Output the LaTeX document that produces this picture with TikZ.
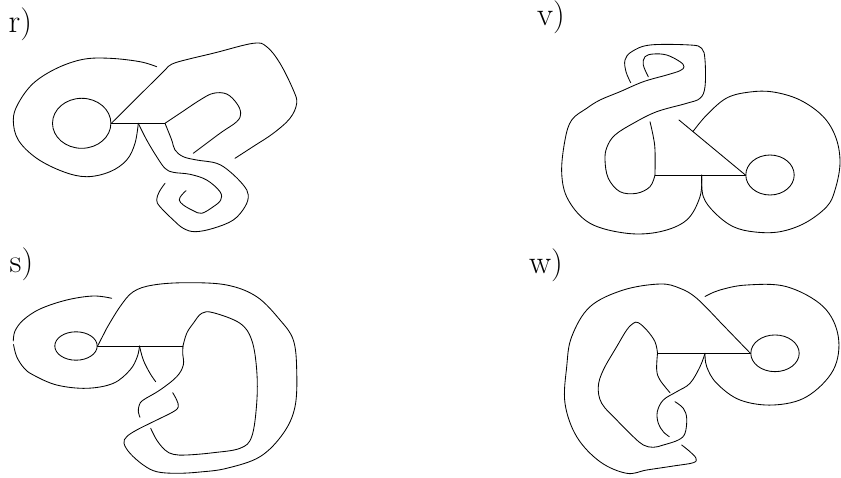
\documentclass[tikz,border=0pt]{standalone}
\usetikzlibrary{shapes.geometric}
\begin{document}
\begin{tikzpicture}[x=1pt,y=-1pt,
  knot/.style={line width=0.85pt,line cap=round,line join=round},
  spot/.style={draw,ellipse,inner sep=0pt,line width=0.85pt},
  lab/.style={font=\fontsize{33}{36}\selectfont,inner sep=0pt,anchor=base west},
  sm/.style={smooth,tension=0.6}]
\useasboundingbox (0,0) rectangle (841,477);

% labels
\node[lab] (lr) at (8.5,32) {r)};
\node[lab] (lv) at (537,25.5) {v)};
\node[lab] (ls) at (9.5,272) {s)};
\node[lab] (lw) at (529,273.5) {w)};

% ---------------- panel r
\node[spot,minimum width=58.4pt,minimum height=50pt] (cr) at (81.7,123.3) {};
\coordinate (r1) at (138.3,123.3);
\coordinate (r2) at (165,123.3);
\draw[knot] (cr.east) -- (r2);
\draw[knot] plot[sm] coordinates {(156.7,66.7) (140,61.7) (110,58.3) (83.3,59.3) (56.7,68.3) (33.3,83.3) (18.3,103.3) (13.3,120) (18.3,140) (36.7,158.3) (63.3,171.7) (86.7,176.7) (110,171.7) (126.7,160) (135,143.3) (r1)};
\draw[knot] (cr.east) -- plot[sm] coordinates {(166.7,68.3) (176,62.5) (215,52.8) (253.3,43.3) (266.7,46.7) (280,63.3) (293.3,90) (296.7,103.3) (290,118.3) (273.3,133.3) (254,146) (235,158.3)};
\draw[knot] plot[sm] coordinates {(r2) (180,113.3) (200,100) (213.3,93.3) (226.7,94) (236.7,103.3) (240.7,113.3) (236.7,121.7) (220,133.3) (193.3,153.3)};
\draw[knot] plot[sm] coordinates {(r2) (171.7,140) (175,150) (183.3,156.7) (196.7,160) (216.7,163.3) (230,171.7) (243.3,185) (248.3,195) (245,206.7) (233.3,220) (213.3,228.3) (195,231.7) (183.3,228.3) (173.3,220) (160,206.7) (156.7,200) (159.3,191.7) (165,183.3)};
\draw[knot] plot[sm] coordinates {(r1) (146.7,140) (156.7,156.7) (165,168.3) (173.3,172.3) (190,174.3) (206.7,180) (220,191.7) (220.7,200) (213.3,206.7) (201.7,213.3) (193.3,210.7) (183.3,205) (179.3,200) (181.7,195) (186,190.7)};

% ---------------- panel v
\node[spot,minimum width=48.4pt,minimum height=40pt] (cv) at (770,175) {};
\coordinate (v1) at (655,175);
\coordinate (v2) at (701.7,175);
\draw[knot] (v1) -- (cv.west);
\draw[knot] (cv.west) -- (679,120);
\draw[knot] plot[sm] coordinates {(693,131.5) (706.7,115) (726.7,98) (750,92) (773.3,92) (800,100) (823.3,116.7) (836,138) (840,163.3) (835,190) (826.7,206.7) (805,223) (780,231.7) (755,232) (733.3,226.7) (715,213) (703.3,196.7) (v2)};
\draw[knot] plot[sm] coordinates {(648.3,76.7) (643.3,65) (645,56.7) (653.3,54) (666.7,55) (680,61.7) (684,66.7) (680,70.7) (666.7,75) (643.3,81.7) (620,91.7) (600,100) (586.7,108.3) (571.7,120) (565,140) (561.7,173.3) (568.3,200) (590,223.3) (626.7,233.3) (660,231.7) (686.7,220) (700,196.7) (v2)};
\draw[knot] plot[sm] coordinates {(630.7,82.7) (626,71.7) (625,60) (631.7,51.7) (650,45) (690,45) (701.7,48.3) (705,60) (705,86.7) (700,98.3) (686.7,103.3) (656.7,111.7) (633.3,123.3) (615,135) (607,147) (605,160) (608.3,178.3) (620,191.7) (636.7,193.3) (650,186.7) (v1)};
\draw[knot] plot[sm] coordinates {(v1) (655,150) (653.3,136.7) (650,121.7)};

% ---------------- panel s
\node[spot,minimum width=42.4pt,minimum height=28.4pt] (cs) at (76,346) {};
\coordinate (s1) at (139.5,346);
\coordinate (s2) at (183,346);
\draw[knot] (cs.east) -- (s2);
\draw[knot] plot[sm] coordinates {(111.7,298.3) (93.3,296) (66.7,300) (40,309) (23.3,320) (15,331) (13.3,341)};
\draw[knot] plot[sm] coordinates {(13.5,344.5) (16.7,356.7) (24,368) (33.3,375) (56.7,385) (86.7,388.3) (113.3,383.3) (130,370) (137.3,356.7) (s1)};
\draw[knot] (cs.east) -- plot[sm] coordinates {(106.7,328.3) (120,306.7) (133.3,291.7) (153.3,285) (186.7,282.7) (226.7,285) (256.7,296.7) (280,320) (293.3,340) (296.7,370) (295,406.7) (283.3,433.3) (260,456.7) (226.7,468.3) (200,472) (176.7,473.3) (156.7,471.7) (143.3,465) (130,453.3) (124,443.3) (126.7,436.7) (136.7,430) (153.3,421.7) (173.3,411.7) (178.3,406.7) (176.7,400) (172.7,392.7)};
\draw[knot] plot[sm] coordinates {(s2) (186.7,333.3) (193.3,323.3) (201.7,313.3) (213.3,312.7) (240,323.3) (251.7,340) (256.7,370) (256.7,403.3) (251.7,436.7) (240,448.3) (213.3,452.7) (186.7,455) (173.3,454.3) (165,450) (156.7,440) (150.7,428.3)};
\draw[knot] plot[sm] coordinates {(s2) (182.7,353.3) (183.3,365) (176.7,376.7) (160,390) (143.3,400) (139.3,405) (138.3,411.7) (140,417.3)};
\draw[knot] plot[sm] coordinates {(s1) (143.3,360) (150,373.3) (155.7,381.7)};

% ---------------- panel w
\node[spot,minimum width=48.4pt,minimum height=36.7pt] (cw) at (775,353.3) {};
\coordinate (w1) at (657.5,353.3);
\coordinate (w2) at (705,353.3);
\draw[knot] (w1) -- (cw.west);
\draw[knot] (cw.west) -- plot[sm] coordinates {(720,321.9) (696.7,298.3) (680,288.3) (660,284) (623.3,290) (590,306.7) (571.7,336.7) (566.7,366.7) (565,403.3) (576.7,436.7) (600,461.7) (626.7,473.3) (646.7,470) (673.3,466) (693.3,462.7) (696,458.3) (690,451.7) (681.7,445)};
\draw[knot] plot[sm] coordinates {(705,296.5) (720,290) (746.7,285) (786.7,286.7) (823.3,306.7) (838.3,336.7) (833.3,370) (806.7,396.7) (773.3,405) (740,400) (716.7,383.3) (706.7,366.7) (w2)};
\draw[knot] plot[sm] coordinates {(w1) (655,341.7) (646.7,330) (638.3,322.7) (633.3,323.3) (626.7,330) (616.7,346.7) (603.3,370) (598.3,386.7) (601.7,403.3) (616.7,420) (633.3,436.7) (643.3,445) (653.3,447.3) (663.3,445) (678.3,440) (685,433.3) (686.7,418.3) (683.3,408.3) (675,401.7)};
\draw[knot] plot[sm] coordinates {(w1) (656.7,370) (660,380) (670,392.7)};
\draw[knot] plot[sm] coordinates {(w2) (700,366.7) (690,383.3) (676.7,391.7) (663.3,400) (657.3,411.7) (658.3,423.3) (663.3,431.7) (669.3,436.7)};
\end{tikzpicture}
\end{document}
